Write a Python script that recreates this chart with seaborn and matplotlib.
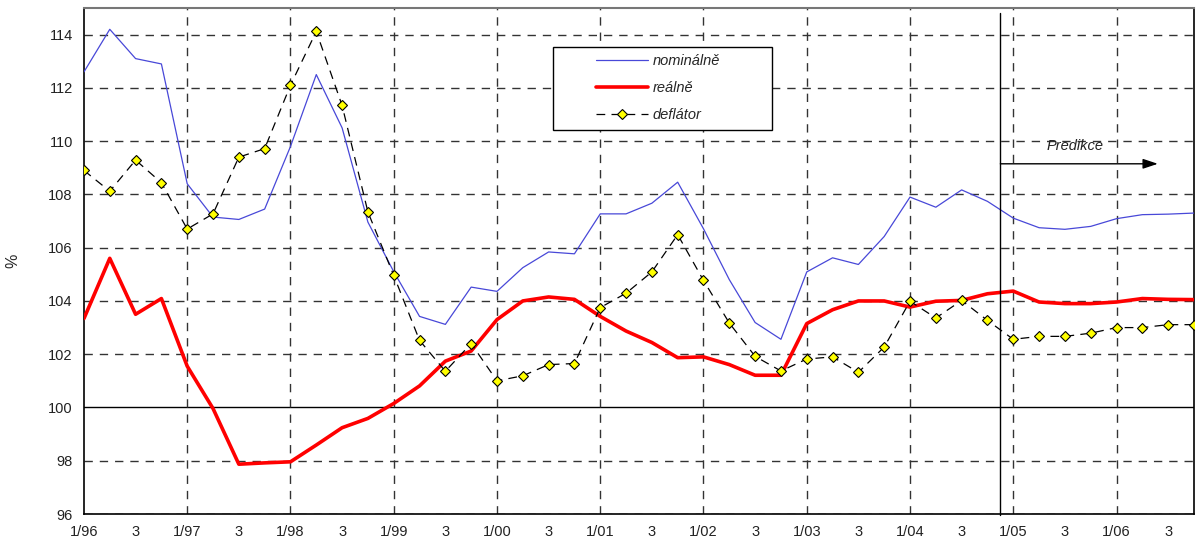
import numpy as np
import matplotlib
matplotlib.use("Agg")
import matplotlib.pyplot as plt
import pandas as pd
import seaborn as sns
from matplotlib.patches import Rectangle

# quarters 1/96 .. 4/06
quarters = list(range(44))
tick_labels = []
for y in range(96, 107):
    yy = y % 100
    tick_labels += ["1/%02d" % yy, "3"]

nominalne = [112.6, 114.2, 113.1, 112.9, 108.4, 107.15, 107.06, 107.45, 109.8, 112.5,
             110.5, 106.96, 105.1, 103.42, 103.12, 104.52, 104.36, 105.25, 105.84, 105.77,
             107.27, 107.27, 107.67, 108.46, 106.71, 104.8, 103.19, 102.56, 105.09, 105.62,
             105.37, 106.42, 107.9, 107.52, 108.17, 107.74, 107.11, 106.75, 106.69, 106.8,
             107.09, 107.24, 107.26, 107.3]
realne = [103.34, 105.6, 103.5, 104.09, 101.55, 99.96, 97.87, 97.92, 97.96, 98.59,
          99.24, 99.59, 100.15, 100.81, 101.74, 102.12, 103.3, 104.0, 104.15, 104.06,
          103.42, 102.87, 102.44, 101.87, 101.9, 101.61, 101.21, 101.21, 103.15, 103.67,
          104.0, 104.0, 103.77, 103.99, 104.02, 104.27, 104.37, 103.96, 103.9, 103.9,
          103.96, 104.09, 104.06, 104.05]
deflator = [108.9, 108.12, 109.29, 108.44, 106.7, 107.27, 109.4, 109.72, 112.1, 114.12,
            111.34, 107.34, 104.96, 102.52, 101.36, 102.4, 101.0, 101.19, 101.61, 101.65,
            103.75, 104.29, 105.09, 106.49, 104.77, 103.17, 101.92, 101.37, 101.82, 101.9,
            101.32, 102.27, 103.99, 103.36, 104.02, 103.27, 102.56, 102.67, 102.67, 102.79,
            103.0, 103.0, 103.11, 103.11]

df = pd.DataFrame({"q": quarters, "nom": nominalne, "real": realne, "defl": deflator})

sns.set_style("white")
plt.rcParams['font.family'] = ['Liberation Sans', 'DejaVu Sans']

fig = plt.figure(figsize=(11.96, 5.41), dpi=100)
ax = fig.add_axes([0.0702, 0.0499, 0.9281, 0.9353])

# grid
for yv in range(96, 115, 2):
    if yv == 100:
        ax.axhline(yv, color="black", lw=1.0, zorder=1)
    else:
        ax.axhline(yv, color="#333333", lw=1.0, ls=(0, (6, 5)), zorder=1)
for xv in range(4, 44, 4):
    ax.axvline(xv, color="#333333", lw=1.0, ls=(0, (6, 5)), zorder=1)

sns.lineplot(data=df, x="q", y="nom", ax=ax, color="#4848d8", lw=0.9,
             label="nominálně", zorder=3)
sns.lineplot(data=df, x="q", y="real", ax=ax, color="#ff0000", lw=2.6,
             label="reálně", zorder=4)
sns.lineplot(data=df, x="q", y="defl", ax=ax, color="black", lw=0.9,
             marker="D", markersize=5.5, markerfacecolor="#ffff00",
             markeredgecolor="black", markeredgewidth=0.8, label="deflátor", zorder=5)
ax.lines[-1].set_linestyle((0, (7, 5)))

ax.set_xlim(0, 43)
ax.set_ylim(96, 115)
ax.set_yticks(range(96, 115, 2))
ax.set_xticks(range(0, 44, 2))
ax.set_xticklabels(tick_labels)
ax.tick_params(axis="both", direction="out", length=4, width=0.8, colors="black",
               labelsize=10.5, pad=4)
for t in ax.get_xticklabels() + ax.get_yticklabels():
    t.set_color("#222222")
ax.set_xlabel("")
ax.set_ylabel("%", fontsize=11.5, labelpad=20)

for s in ["left", "bottom", "right"]:
    ax.spines[s].set_color("black")
    ax.spines[s].set_linewidth(1.2)
ax.spines["top"].set_color("#777777")
ax.spines["top"].set_linewidth(1.5)

# prediction marker
ax.plot([35.5, 35.5], [95.95, 114.82], color="black", lw=1.0, clip_on=False, zorder=6)
ax.annotate("", xy=(41.6, 109.15), xytext=(35.5, 109.15),
            arrowprops=dict(arrowstyle="-|>,head_length=0.9,head_width=0.3",
                            color="black", lw=1.0, shrinkA=0, shrinkB=0))
ax.text(38.4, 109.55, "Predikce", ha="center", va="bottom",
        fontsize=10.5, style="italic", color="#222222")

# legend box
ax.add_patch(Rectangle((0.423, 0.759), 0.197, 0.164, transform=ax.transAxes,
                       facecolor="white", edgecolor="black", lw=1.0, zorder=7))
leg = ax.legend(loc="center left", bbox_to_anchor=(0.461, 0.842), frameon=False,
                handlelength=3.6, fontsize=10.5, labelspacing=0.9, borderpad=0,
                borderaxespad=0, handletextpad=0.3)
leg.set_zorder(8)
for t in leg.get_texts():
    t.set_style("italic")

fig.savefig("out.png", dpi=100)
